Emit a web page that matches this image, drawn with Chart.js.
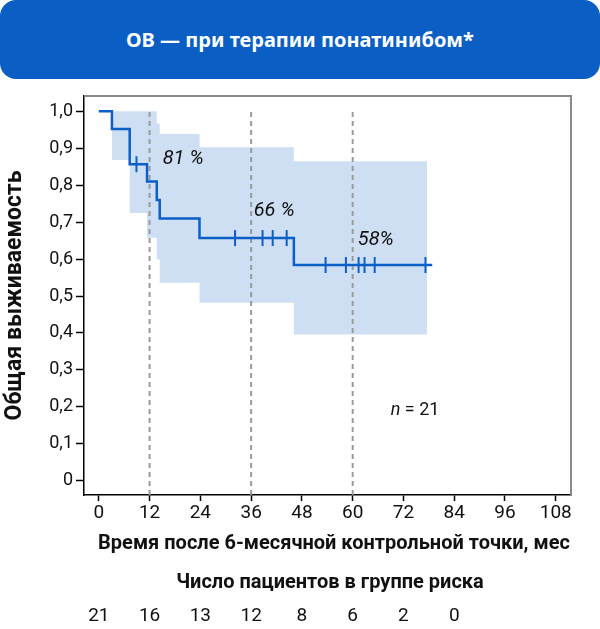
<!DOCTYPE html>
<html>
<head>
<meta charset="utf-8">
<script src="https://cdn.jsdelivr.net/npm/chart.js@4"></script>
<style>
  html, body { margin: 0; padding: 0; background: #fff; }
  #wrap { position: relative; width: 600px; height: 629px; }
  #header {
    position: absolute; left: 0; top: 0; width: 600px; height: 79px;
    background: #0a5ec4; border-radius: 16px; color: #fff;
    font-family: 'Noto Sans', sans-serif; font-weight: bold; font-size: 20px;
    display: flex; align-items: center; justify-content: center;
  }
  #chart { position: absolute; left: 0; top: 0; }
</style>
</head>
<body>
<div id="wrap">
  <canvas id="chart" width="600" height="629"></canvas>
  <div id="header">ОВ — при терапии понатинибом*</div>
</div>
<script>
// Kaplan-Meier curve (time in months, survival)
const kmTimes = [0, 3.1, 7.3, 11.4, 13.7, 14.4, 23.8, 46.1, 78.8];
const kmSurv  = [1, 0.952, 0.857, 0.81, 0.76, 0.71, 0.657, 0.584, 0.584];

// censored patients
const censorTimes = [8.9, 32.2, 38.7, 41.1, 44.4, 53.6, 58.4, 61.4, 62.8, 65.2, 77.2];
const censorSurv  = [0.857, 0.657, 0.657, 0.657, 0.657, 0.584, 0.584, 0.584, 0.584, 0.584, 0.584];

// confidence band
const ciTimes = [3.1, 7.3, 11.4, 13.7, 14.4, 23.8, 46.1, 77.6];
const ciUpper = [1, 1, 1, 0.967, 0.939, 0.903, 0.865, 0.865];
const ciLower = [0.868, 0.725, 0.658, 0.599, 0.536, 0.482, 0.396, 0.396];

// landmark times and survival there
const landmarkTimes = [12, 36, 60];
const landmarkLabels = ['81 %', '66 %', '58%'];

const xTicks = [0, 12, 24, 36, 48, 60, 72, 84, 96, 108];
const yTicks = [0, 0.1, 0.2, 0.3, 0.4, 0.5, 0.6, 0.7, 0.8, 0.9, 1.0];

// number at risk
const riskTimes  = [0, 12, 24, 36, 48, 60, 72, 84];
const riskCounts = [21, 16, 13, 12, 8, 6, 2, 0];

const blue = '#0b5fc6';
const X_MIN = -3.5, X_MAX = 111.6, Y_MIN = -0.0386, Y_MAX = 1.0416;

const pts = (xs, ys) => xs.map((x, i) => ({ x: x, y: ys[i] }));

const datasets = [
  {
    label: 'ОВ', data: pts(kmTimes, kmSurv), stepped: 'before',
    borderColor: blue, borderWidth: 2.5, pointRadius: 0, fill: false, order: 1
  },
  {
    label: 'censored', type: 'scatter', data: pts(censorTimes, censorSurv),
    pointStyle: 'line', rotation: 90, radius: 8, borderColor: blue, borderWidth: 2,
    order: 0
  }
];
landmarkTimes.forEach(t => {
  datasets.push({
    label: 'landmark ' + t, data: [{ x: t, y: Y_MIN }, { x: t, y: 1 }],
    borderColor: '#9a9a9a', borderWidth: 2, borderDash: [5, 4],
    pointRadius: 0, fill: false, order: 2
  });
});
datasets.push({
  label: 'ci upper', data: pts(ciTimes, ciUpper), stepped: 'before',
  borderWidth: 0, pointRadius: 0, fill: false, order: 3
});
datasets.push({
  label: 'ci lower', data: pts(ciTimes, ciLower), stepped: 'before',
  borderWidth: 0, pointRadius: 0, fill: '-1',
  backgroundColor: '#cedff3', order: 3
});

// texts placed in data coordinates
const labelAt = [[15.1, 0.857], [36.6, 0.717], [61.2, 0.638]];

const textPlugin = {
  id: 'texts',
  afterDraw(chart) {
    const ctx = chart.ctx;
    const a = chart.chartArea;
    const xs = chart.scales.x, ys = chart.scales.y;
    ctx.save();
    // grey top and right frame
    ctx.strokeStyle = '#8a8a8a';
    ctx.lineWidth = 2;
    ctx.beginPath();
    ctx.moveTo(a.left, a.top);
    ctx.lineTo(a.right, a.top);
    ctx.lineTo(a.right, a.bottom);
    ctx.stroke();

    ctx.fillStyle = '#111';
    ctx.textBaseline = 'alphabetic';
    ctx.textAlign = 'left';
    ctx.font = 'italic 20px Roboto';
    landmarkLabels.forEach((txt, i) => {
      ctx.fillText(txt, xs.getPixelForValue(labelAt[i][0]), ys.getPixelForValue(labelAt[i][1]));
    });

    // n = 21
    const nx = xs.getPixelForValue(69), ny = ys.getPixelForValue(0.178);
    ctx.font = 'italic 18px Roboto';
    ctx.fillText('n', nx, ny);
    const w = ctx.measureText('n').width;
    ctx.font = '18px Roboto';
    ctx.fillText(' = 21', nx + w, ny);

    // axis titles
    ctx.textAlign = 'center';
    ctx.textBaseline = 'middle';
    ctx.font = 'bold 20px Roboto';
    ctx.fillText('Время после 6-месячной контрольной точки, мес', 334, 544);
    ctx.save();
    ctx.translate(15, (a.top + a.bottom) / 2);
    ctx.rotate(-Math.PI / 2);
    ctx.font = 'bold 23px Roboto';
    ctx.fillText('Общая выживаемость', 0, 0);
    ctx.restore();

    // number at risk
    ctx.font = 'bold 20px Roboto';
    ctx.fillText('Число пациентов в группе риска', 330, 583);
    ctx.font = '19px Roboto';
    riskTimes.forEach((t, i) => {
      ctx.fillText(String(riskCounts[i]), xs.getPixelForValue(t), 616);
    });
    ctx.restore();
  }
};

new Chart(document.getElementById('chart'), {
  type: 'line',
  data: { datasets: datasets },
  options: {
    responsive: false,
    animation: false,
    layout: { padding: { top: 96, right: 29, left: 0, bottom: 0 } },
    plugins: { legend: { display: false }, tooltip: { enabled: false } },
    scales: {
      x: {
        type: 'linear', min: X_MIN, max: X_MAX,
        afterFit: s => { s.height = 134; },
        afterBuildTicks: s => { s.ticks = xTicks.map(v => ({ value: v })); },
        grid: { drawOnChartArea: false, color: '#000', tickLength: 6, tickWidth: 1.5 },
        border: { color: '#000', width: 1.5 },
        ticks: { color: '#111', font: { family: 'Roboto', size: 19 }, padding: 1, maxRotation: 0 }
      },
      y: {
        type: 'linear', min: Y_MIN, max: Y_MAX,
        afterFit: s => { s.width = 84; },
        afterBuildTicks: s => { s.ticks = yTicks.map(v => ({ value: v })); },
        grid: { drawOnChartArea: false, color: '#000', tickLength: 8, tickWidth: 1.5 },
        border: { color: '#000', width: 1.5 },
        ticks: {
          color: '#111', font: { family: 'Roboto', size: 18 }, padding: 3,
          callback: v => v === 0 ? '0' : v.toFixed(1).replace('.', ',')
        }
      }
    }
  },
  plugins: [textPlugin]
});
</script>
</body>
</html>
